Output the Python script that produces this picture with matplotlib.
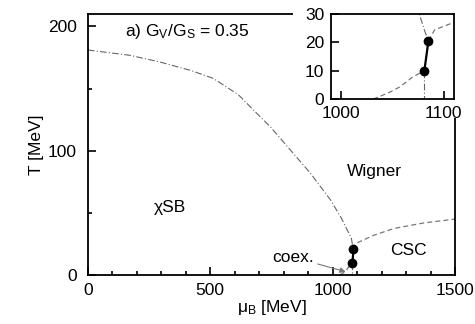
import matplotlib
matplotlib.use("Agg")
import matplotlib.pyplot as plt
from matplotlib.patches import Rectangle
from matplotlib.ticker import MultipleLocator

plt.rcParams['font.family'] = ['Liberation Sans', 'DejaVu Sans']
plt.rcParams['font.size'] = 12.5
plt.rcParams['mathtext.fontset'] = 'custom'
plt.rcParams['mathtext.rm'] = 'Liberation Sans'
plt.rcParams['mathtext.it'] = 'Liberation Sans:italic'

# chiral transition (dash-dot), upper part down to the end point
chiral_mu = [0, 172, 295, 418, 512, 615, 664, 746, 828, 910, 992, 1035, 1060, 1076,
             1081.5, 1085]
chiral_T = [181, 176.7, 171.3, 164.7, 158.2, 145, 135.2, 119.1, 100.4, 81.7, 60.2, 46,
            36, 30, 23.8, 20.6]
# chiral line below the first order segment
chiral_low_mu = [1081, 1081]
chiral_low_T = [10, 0]
# first order segment (solid, with end points)
first_mu = [1081, 1085]
first_T = [10, 20.6]
# CSC boundary (dashed)
csc_left_mu = [1031, 1047, 1057, 1070, 1081]
csc_left_T = [0, 2.4, 4.3, 7.9, 10]
csc_right_mu = [1085, 1091, 1106, 1169, 1251, 1374, 1500]
csc_right_T = [20.6, 24.4, 26.5, 32.1, 37.5, 42, 45]

fig = plt.figure(figsize=(4.75, 3.24), dpi=100)
ax = fig.add_axes([0.185, 0.151, 0.773, 0.806])


def draw_lines(a):
    a.plot(chiral_mu, chiral_T, ls='-.', color='#666666', lw=0.8, dashes=[6, 2, 1, 2])
    a.plot(chiral_low_mu, chiral_low_T, ls='-.', color='#666666', lw=0.8, dashes=[6, 2, 1, 2])
    a.plot(csc_left_mu, csc_left_T, ls='--', color='#777777', lw=0.9, dashes=[4, 2.5])
    a.plot(csc_right_mu, csc_right_T, ls='--', color='#777777', lw=0.9, dashes=[4, 2.5])
    a.plot(first_mu, first_T, '-', color='black', lw=1.6, marker='o', ms=6,
           clip_on=False, zorder=5)


draw_lines(ax)
ax.set_xlim(0, 1500)
ax.set_ylim(0, 210)
ax.xaxis.set_major_locator(MultipleLocator(500))
ax.xaxis.set_minor_locator(MultipleLocator(100))
ax.yaxis.set_major_locator(MultipleLocator(100))
ax.yaxis.set_minor_locator(MultipleLocator(50))
ax.tick_params(which='both', direction='in', width=1.2)
ax.tick_params(which='major', length=6, pad=6)
ax.tick_params(axis='y', which='major', pad=8)
ax.tick_params(which='minor', length=3)
for s in ax.spines.values():
    s.set_linewidth(1.3)
ax.set_xlabel(r'μ$_\mathrm{B}$ [MeV]', labelpad=0)
ax.set_ylabel('T [MeV]', labelpad=3)

ax.text(152, 192, r'a) G$_\mathrm{V}$/G$_\mathrm{S}$ = 0.35', va='baseline', ha='left')
ax.text(1170, 83, 'Wigner', ha='center', va='center')
ax.text(336, 54, 'χSB', ha='center', va='center')
ax.text(1309, 20, 'CSC', ha='center', va='center')
ax.annotate('coex.', xy=(1053, 2.7), xytext=(922, 14.5), ha='right', va='center',
            arrowprops=dict(arrowstyle='-|>', color='#777777', lw=0.8,
                            shrinkA=1, shrinkB=0, mutation_scale=8))

# white area behind the inset, hiding the main frame corner
fig.add_artist(Rectangle((0.617, 0.636), 0.4, 0.4, transform=fig.transFigure,
                         facecolor='white', edgecolor='none', zorder=1))

ins = fig.add_axes([0.697, 0.694, 0.259, 0.263], zorder=2)
draw_lines(ins)
ins.set_xlim(990, 1110)
ins.set_ylim(0, 30)
ins.set_xticks([1000, 1100])
ins.set_yticks([0, 10, 20, 30])
ins.tick_params(direction='in', length=6, width=1.2, pad=5)
for s in ins.spines.values():
    s.set_linewidth(1.3)

fig.savefig('out.png', dpi=100)
